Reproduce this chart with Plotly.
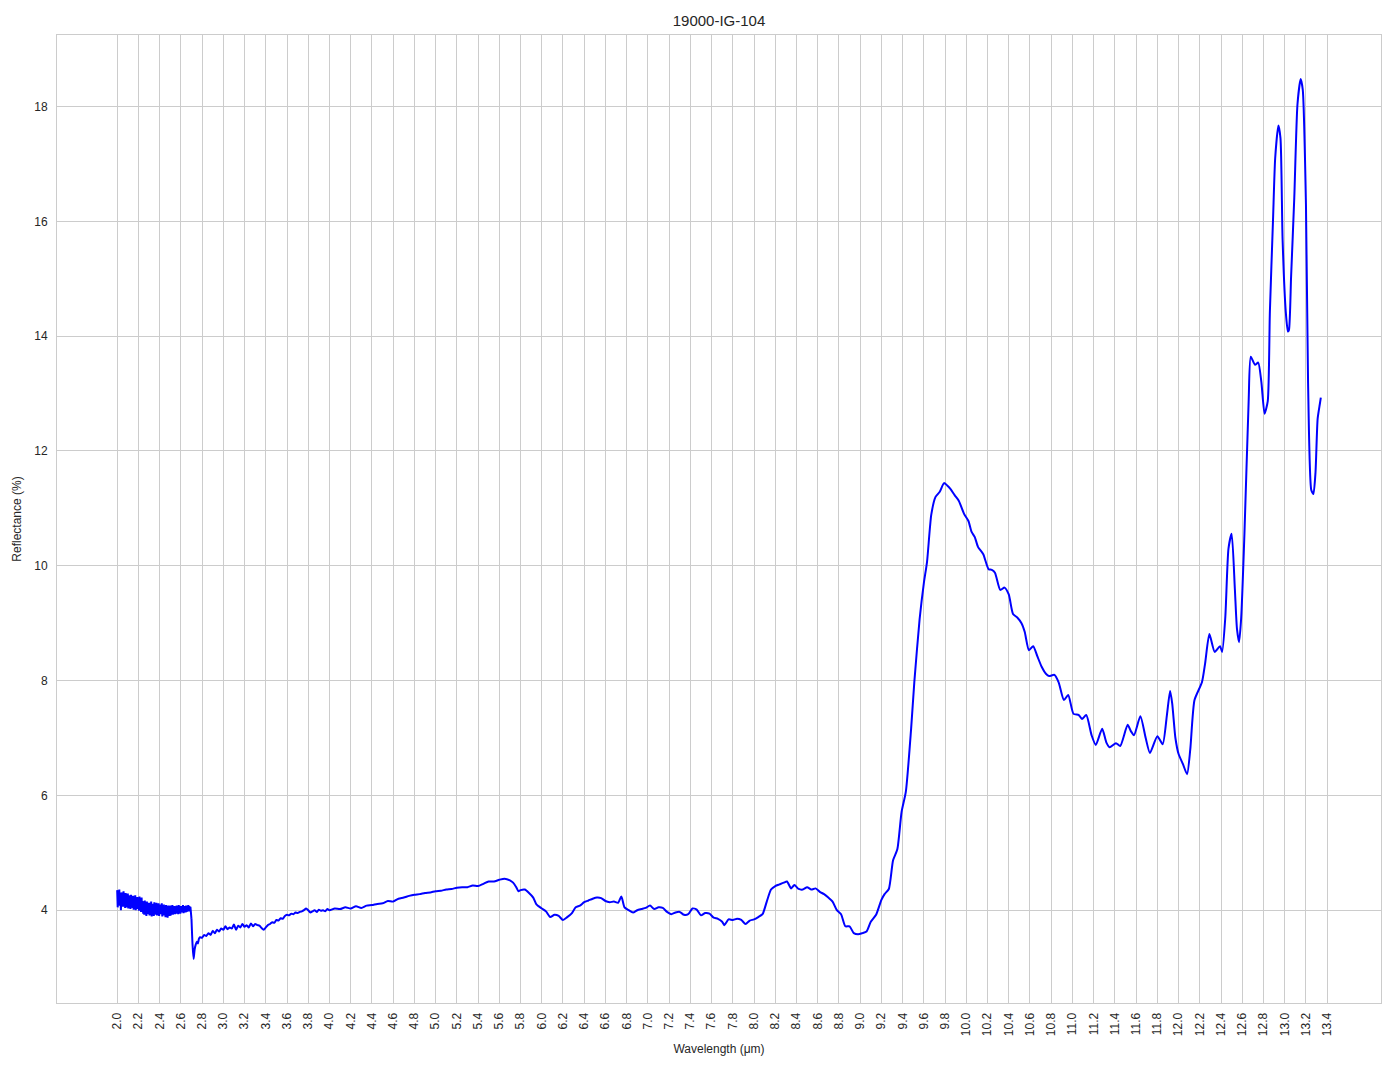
import plotly.graph_objects as go

# ---- Data ----
# Noisy start: 2.000 .. 2.695 um, sampled every 0.005 um
noisy_start_wl = 2.00
noisy_step_wl = 0.005
noisy_refl = [
    4.35, 4.05, 4.30, 4.12, 4.36, 4.08, 4.26, 4.00, 4.31, 4.10,
    4.28, 4.06, 4.33, 4.09, 4.25, 4.04, 4.30, 4.11, 4.22, 4.05,
    4.29, 4.03, 4.26, 4.08, 4.24, 4.02, 4.27, 4.06, 4.21, 4.04,
    4.25, 4.01, 4.22, 4.07, 4.26, 4.00, 4.20, 4.05, 4.23, 4.02,
    4.21, 3.99, 4.24, 4.03, 4.18, 3.97, 4.22, 4.01, 4.16, 3.94,
    4.14, 3.92, 4.17, 3.96, 4.12, 3.90, 4.15, 3.95, 4.10, 3.93,
    4.13, 3.91, 4.10, 3.94, 4.15, 3.89, 4.11, 3.93, 4.08, 3.90,
    4.14, 3.92, 4.09, 3.95, 4.13, 3.91, 4.07, 3.94, 4.12, 3.90,
    4.10, 3.93, 4.08, 3.96, 4.12, 3.89, 4.06, 3.92, 4.10, 3.91,
    4.07, 3.88, 4.09, 3.93, 4.05, 3.87, 4.08, 3.92, 4.06, 3.90,
    4.08, 3.91, 4.05, 3.94, 4.09, 3.92, 4.06, 3.95, 4.07, 3.93,
    4.05, 3.94, 4.08, 3.95, 4.06, 3.93, 4.09, 3.96, 4.05, 3.94,
    4.07, 3.96, 4.06, 3.97, 4.09, 3.95, 4.07, 3.98, 4.06, 3.96,
    4.08, 3.97, 4.06, 4.00, 4.09, 3.98, 4.07, 4.02, 4.06, 3.98,
]

wavelength_rest = [
    2.70, 2.71, 2.72, 2.73, 2.74, 2.75, 2.76, 2.77, 2.78, 2.80,
    2.82, 2.84, 2.86, 2.88, 2.90, 2.92, 2.94, 2.96, 2.98, 3.00,
    3.02, 3.04, 3.06, 3.08, 3.10, 3.12, 3.14, 3.16, 3.18, 3.20,
    3.22, 3.24, 3.26, 3.28, 3.30, 3.32, 3.34, 3.36, 3.38, 3.40,
    3.42, 3.44, 3.46, 3.48, 3.50, 3.52, 3.54, 3.56, 3.58, 3.60,
    3.62, 3.64, 3.66, 3.68, 3.70, 3.72, 3.74, 3.76, 3.78, 3.80,
    3.82, 3.84, 3.86, 3.88, 3.90, 3.92, 3.94, 3.96, 3.98, 4.00,
    4.05, 4.10, 4.15, 4.20, 4.25, 4.30, 4.35, 4.40, 4.45, 4.50,
    4.55, 4.60, 4.65, 4.70, 4.75, 4.80, 4.85, 4.90, 4.95, 5.00,
    5.05, 5.10, 5.15, 5.20, 5.25, 5.30, 5.35, 5.40, 5.45, 5.50,
    5.55, 5.60, 5.65, 5.70, 5.73, 5.76, 5.78, 5.80, 5.84, 5.88,
    5.92, 5.95, 6.00, 6.04, 6.08, 6.12, 6.16, 6.20, 6.24, 6.28,
    6.32, 6.36, 6.40, 6.44, 6.48, 6.52, 6.56, 6.60, 6.64, 6.68,
    6.72, 6.75, 6.78, 6.82, 6.86, 6.90, 6.94, 6.98, 7.02, 7.06,
    7.10, 7.14, 7.18, 7.22, 7.26, 7.30, 7.34, 7.38, 7.42, 7.46,
    7.50, 7.54, 7.58, 7.62, 7.66, 7.70, 7.72, 7.76, 7.80, 7.84,
    7.88, 7.92, 7.96, 8.00, 8.04, 8.08, 8.12, 8.16, 8.20, 8.24,
    8.28, 8.31, 8.35, 8.38, 8.42, 8.46, 8.50, 8.54, 8.58, 8.62,
    8.66, 8.70, 8.74, 8.78, 8.82, 8.86, 8.90, 8.94, 8.98, 9.02,
    9.06, 9.10, 9.15, 9.20, 9.23, 9.27, 9.31, 9.35, 9.39, 9.43,
    9.48, 9.51, 9.56, 9.60, 9.63, 9.67, 9.71, 9.75, 9.79, 9.82,
    9.85, 9.89, 9.93, 9.98, 10.02, 10.05, 10.08, 10.11, 10.16, 10.21,
    10.24, 10.27, 10.32, 10.36, 10.40, 10.44, 10.48, 10.52, 10.55, 10.59,
    10.63, 10.67, 10.71, 10.75, 10.78, 10.83, 10.87, 10.92, 10.96, 11.01,
    11.06, 11.09, 11.13, 11.18, 11.22, 11.28, 11.32, 11.35, 11.41, 11.45,
    11.52, 11.55, 11.58, 11.64, 11.69, 11.73, 11.80, 11.85, 11.89, 11.92,
    11.94, 11.97, 12.00, 12.04, 12.08, 12.11, 12.15, 12.22, 12.25, 12.29,
    12.34, 12.39, 12.41, 12.44, 12.47, 12.50, 12.53, 12.55, 12.57, 12.59,
    12.62, 12.66, 12.68, 12.72, 12.75, 12.78, 12.81, 12.84, 12.86, 12.89,
    12.91, 12.94, 12.96, 12.98, 13.01, 13.03, 13.04, 13.06, 13.09, 13.12,
    13.15, 13.17, 13.20, 13.22, 13.25, 13.27, 13.29, 13.31, 13.33, 13.34,
]
reflectance_rest = [
    3.85, 3.40, 3.15, 3.32, 3.40, 3.45, 3.42, 3.50, 3.53, 3.52,
    3.57, 3.55, 3.60, 3.57, 3.64, 3.60, 3.66, 3.63, 3.68, 3.66,
    3.72, 3.67, 3.70, 3.68, 3.75, 3.66, 3.73, 3.70, 3.76, 3.71,
    3.74, 3.70, 3.77, 3.72, 3.76, 3.74, 3.73, 3.69, 3.66, 3.70,
    3.74, 3.76, 3.79, 3.78, 3.83, 3.82, 3.86, 3.85, 3.90, 3.92,
    3.91, 3.94, 3.93, 3.96, 3.95, 3.97, 3.98, 4.00, 4.03, 4.00,
    3.96, 3.98, 4.00, 3.97, 4.01, 3.99, 4.00, 3.98, 4.02, 4.00,
    4.03, 4.02, 4.05, 4.03, 4.07, 4.04, 4.08, 4.09, 4.11, 4.12,
    4.16, 4.15, 4.20, 4.22, 4.25, 4.27, 4.28, 4.30, 4.31, 4.33,
    4.34, 4.36, 4.37, 4.39, 4.40, 4.40, 4.43, 4.42, 4.46, 4.50,
    4.50, 4.53, 4.55, 4.52, 4.48, 4.40, 4.33, 4.35, 4.36, 4.30,
    4.22, 4.10, 4.03, 3.98, 3.88, 3.92, 3.90, 3.83, 3.88, 3.94,
    4.05, 4.08, 4.14, 4.17, 4.20, 4.22, 4.21, 4.16, 4.14, 4.15,
    4.13, 4.24, 4.05, 4.00, 3.96, 4.00, 4.02, 4.04, 4.08, 4.02,
    4.05, 4.04, 3.97, 3.93, 3.96, 3.97, 3.92, 3.93, 4.03, 4.01,
    3.91, 3.95, 3.94, 3.87, 3.85, 3.80, 3.74, 3.84, 3.83, 3.85,
    3.83, 3.76, 3.82, 3.84, 3.88, 3.93, 4.15, 4.36, 4.42, 4.45,
    4.48, 4.50, 4.38, 4.44, 4.37, 4.36, 4.40, 4.36, 4.38, 4.32,
    4.28, 4.22, 4.15, 4.00, 3.93, 3.72, 3.72, 3.60, 3.58, 3.60,
    3.63, 3.80, 3.92, 4.18, 4.28, 4.37, 4.87, 5.06, 5.71, 6.06,
    7.16, 7.97, 9.07, 9.70, 10.07, 10.89, 11.20, 11.29, 11.44, 11.40,
    11.34, 11.23, 11.13, 10.90, 10.78, 10.59, 10.50, 10.33, 10.20, 9.94,
    9.93, 9.88, 9.58, 9.62, 9.50, 9.16, 9.10, 9.00, 8.85, 8.53,
    8.60, 8.42, 8.24, 8.12, 8.08, 8.10, 7.97, 7.66, 7.75, 7.42,
    7.40, 7.33, 7.40, 7.05, 6.88, 7.16, 6.92, 6.84, 6.91, 6.86,
    7.23, 7.12, 7.05, 7.38, 7.00, 6.74, 7.03, 6.89, 7.40, 7.82,
    7.60, 7.00, 6.72, 6.55, 6.37, 6.80, 7.66, 7.97, 8.30, 8.81,
    8.50, 8.60, 8.50, 9.10, 10.30, 10.56, 9.60, 8.90, 8.67, 9.10,
    10.54, 12.86, 13.64, 13.50, 13.54, 13.20, 12.65, 12.87, 14.42, 16.04,
    17.10, 17.67, 17.45, 15.67, 14.42, 14.08, 14.11, 15.04, 16.41, 18.04,
    18.48, 18.29, 16.29, 13.18, 11.32, 11.25, 11.63, 12.56, 12.81, 12.93,
]

x_tick_values = [round(2.0 + 0.2 * i, 1) for i in range(58)]
y_tick_values = [4, 6, 8, 10, 12, 14, 16, 18]

title_text = "19000-IG-104"
x_title = "Wavelength (μm)"
y_title = "Reflectance (%)"

# ---- Build ----
noisy_wl = [round(noisy_start_wl + noisy_step_wl * i, 3) for i in range(len(noisy_refl))]

font_family = "Liberation Sans, Arial, DejaVu Sans, sans-serif"
grid_col = "#cccccc"

fig = go.Figure()
fig.add_trace(go.Scatter(
    x=noisy_wl + [wavelength_rest[0]], y=noisy_refl + [reflectance_rest[0]], mode="lines",
    line=dict(color="#0000ff", width=2),
    showlegend=False,
))
fig.add_trace(go.Scatter(
    x=wavelength_rest, y=reflectance_rest, mode="lines",
    line=dict(color="#0000ff", width=2, shape="spline", smoothing=0.6),
    showlegend=False,
))

all_x = noisy_wl + wavelength_rest
all_y = noisy_refl + reflectance_rest
xmin, xmax = min(all_x), max(all_x)
ymin, ymax = min(all_y), max(all_y)
xpad = (xmax - xmin) * 0.05
ypad = (ymax - ymin) * 0.05

# page body has an ~8px offset; margins compensate so the plot lands where the reference has it
fig.update_layout(
    width=1394, height=1069,
    paper_bgcolor="white", plot_bgcolor="white",
    margin=dict(l=49, r=21, t=27, b=74, autoexpand=False),
    font=dict(family=font_family, size=12, color="#262626"),
    title=dict(text=title_text, x=(49 + 1324 / 2) / 1394, xanchor="center", xref="container",
               y=1 - 13 / 1069, yanchor="middle",
               font=dict(size=15, color="#262626")),
)
fig.update_xaxes(
    range=[xmin - xpad, xmax + xpad], automargin=False,
    tickmode="array", tickvals=x_tick_values,
    ticktext=[f"{v:.1f}" for v in x_tick_values],
    tickangle=-90, ticks="", ticklabelstandoff=4,
    showgrid=True, gridcolor=grid_col, gridwidth=1,
    zeroline=False, showline=True, linecolor=grid_col, linewidth=1, mirror=True,
    title=dict(text=x_title, font=dict(size=12), standoff=9),
    tickfont=dict(size=12, color="#262626"),
)
fig.update_yaxes(
    range=[ymin - ypad, ymax + ypad], automargin=False,
    tickmode="array", tickvals=y_tick_values,
    ticktext=[str(v) for v in y_tick_values],
    ticks="", ticklabelstandoff=6,
    showgrid=True, gridcolor=grid_col, gridwidth=1,
    zeroline=False, showline=True, linecolor=grid_col, linewidth=1, mirror=True,
    title=dict(text=y_title, font=dict(size=12), standoff=10),
    tickfont=dict(size=12, color="#262626"),
)

fig.write_html("out.html")
